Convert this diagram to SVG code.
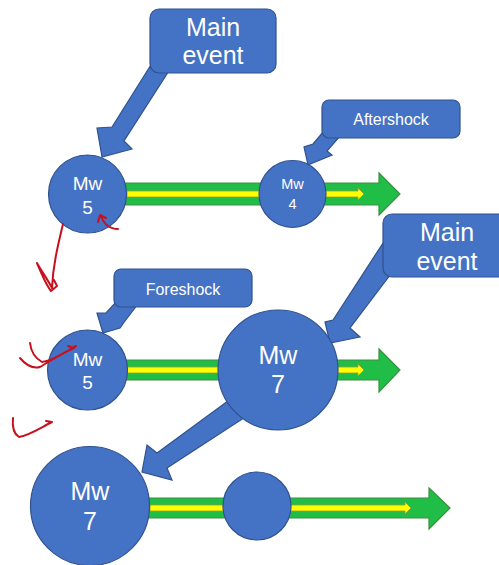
<svg xmlns="http://www.w3.org/2000/svg" width="499" height="565" viewBox="0 0 499 565">
<style>
.b{fill:#4472C4;stroke:#2F528F;stroke-width:1.2}
.g{fill:#21BE47;stroke:#3E8E41;stroke-width:1.2}
.y{fill:#FFFF00;stroke:#9A9A30;stroke-width:0.8}
.t{fill:#FFFFFF;font-family:"Liberation Sans",Arial,sans-serif;text-anchor:middle}
.r{fill:none;stroke:#C8101E;stroke-width:2;stroke-linecap:round;stroke-linejoin:round}
</style>
<rect width="499" height="565" fill="#FFFFFF"/>
<g id="connectors">
<polygon class="g" points="87,183 379,183 379,173 400,194 379,215 379,205 87,205"/>
<polygon class="y" points="127,191 358,191 358,188 364,194 358,200 358,197 127,197"/>
<polygon class="g" points="87,360 379,360 379,349 400,370 379,392 379,380 87,380"/>
<polygon class="y" points="127,367 358,367 358,364 364,370 358,376 358,373 127,373"/>
<polygon class="g" points="90,498 429,498 429,488 450,508 429,529 429,518 90,518"/>
<polygon class="y" points="150,505 405,505 405,502 411,508 405,514 405,511 150,511"/>
<polygon class="b" points="232,398 157,453 147,445 142,472 172,480 167,468 250,414"/>
</g>
<g id="main-event-1">
<polygon class="b" points="154,60 112,127 97,128 102,157 132,149 124,141 172,66"/>
<rect class="b" x="150" y="9" width="126" height="64" rx="9"/>
<text class="t" x="213" y="36" font-size="25">Main</text>
<text class="t" x="213" y="64" font-size="25">event</text>
</g>
<g id="aftershock">
<polygon class="b" points="324,131 313,144 304,147 308,165 332,155 327,151 340,136"/>
<rect class="b" x="322" y="100" width="138" height="38" rx="7"/>
<text class="t" x="391" y="125" font-size="16">Aftershock</text>
</g>
<g id="mw5-top">
<circle class="b" cx="87.5" cy="194" r="39"/>
<text class="t" x="87.5" y="190" font-size="19">Mw</text>
<text class="t" x="87.5" y="214" font-size="19">5</text>
</g>
<g id="mw4">
<circle class="b" cx="292.5" cy="194" r="33.5"/>
<text class="t" x="292.5" y="189" font-size="14.5">Mw</text>
<text class="t" x="292.5" y="209" font-size="14.5">4</text>
</g>
<g id="main-event-2">
<polygon class="b" points="385,240 333,320 325,322 330,343 360,337 350,328 390,275"/>
<rect class="b" x="383" y="214" width="125" height="63" rx="9"/>
<text class="t" x="447" y="241" font-size="25">Main</text>
<text class="t" x="447" y="270" font-size="25">event</text>
</g>
<g id="foreshock">
<polygon class="b" points="118,300 106,313 97,313 103,333 120,328 125,321 138,304"/>
<rect class="b" x="114" y="269" width="138" height="38" rx="7"/>
<text class="t" x="183" y="295" font-size="16">Foreshock</text>
</g>
<g id="mw5-mid">
<circle class="b" cx="87.5" cy="370" r="40"/>
<text class="t" x="87.5" y="366" font-size="19">Mw</text>
<text class="t" x="87.5" y="389" font-size="19">5</text>
</g>
<g id="mw7-mid">
<circle class="b" cx="278" cy="370" r="60"/>
<text class="t" x="278" y="364" font-size="25">Mw</text>
<text class="t" x="278" y="393" font-size="25">7</text>
</g>
<g id="mw7-bottom">
<circle class="b" cx="90" cy="506" r="59.5"/>
<text class="t" x="90" y="500" font-size="25">Mw</text>
<text class="t" x="90" y="530" font-size="25">7</text>
</g>
<g id="blank-circle">
<circle class="b" cx="257" cy="506" r="34"/>
</g>
<g id="ink">
<path class="r" d="M118,229 C110,229 104,224 101,216 M98,222 L100,215 L106,218"/>
<path class="r" d="M63,224 C58,245 53,265 52,288 C48,280 42,272 37,263 C42,275 46,285 51,291 L57,286 L54,280"/>
<path class="r" d="M30,343 C31,352 35,358 42,362 C55,360 65,352 76,346 M20,358 C25,364 32,369 40,367 C52,360 62,353 74,348 L68,346"/>
<path class="r" d="M13,418 C12,428 14,434 19,437 C30,435 40,428 52,422 L46,421"/>
</g>
</svg>
